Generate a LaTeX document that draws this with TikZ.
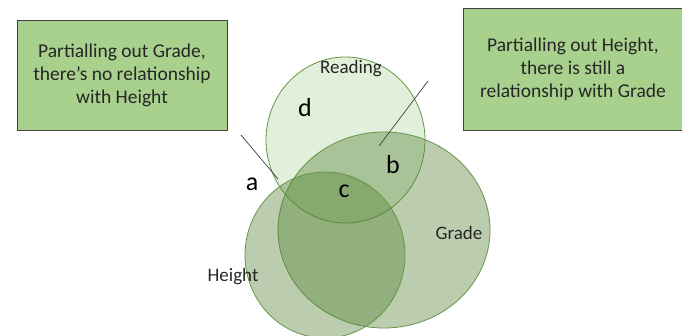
\documentclass[tikz,border=0pt]{standalone}
\usepackage{fontspec}
\setmainfont{Carlito}
\usetikzlibrary{shapes.geometric}
\definecolor{boxgreen}{RGB}{169,209,142}
\definecolor{vgreen}{RGB}{84,130,53}
\definecolor{rgreen}{RGB}{112,173,71}
\definecolor{vedge}{RGB}{100,150,70}
\definecolor{ink}{RGB}{38,38,38}
\definecolor{pointer}{RGB}{64,64,64}
\tikzset{
  notebox/.style={draw=pointer, line width=0.8pt, fill=boxgreen, align=center, text=ink,
    font=\fontsize{19.5}{23}\selectfont, inner sep=0pt},
  venn/.style={ellipse, draw=vedge, line width=0.8pt, fill=vgreen, inner sep=0pt},
  vlabel/.style={text=ink, font=\fontsize{19}{22}\selectfont, inner sep=0pt},
  region/.style={text=black, font=\fontsize{26}{30}\selectfont, inner sep=0pt},
  pointerline/.style={draw=pointer, line width=0.7pt}
}
\begin{document}
\begin{tikzpicture}[x=1pt,y=-1pt]
\useasboundingbox (0,0) rectangle (682,335);
% boxes
\node[notebox, minimum width=210pt, minimum height=110pt] (lbox) at (122,75.7)
  {Partialling out Grade,\\there’s no relationship\\with Height};
\node[notebox, minimum width=220pt, minimum height=121.5pt] (rbox) at (573,69.5)
  {Partialling out Height,\\there is still a\\relationship with Grade};
% circles
\node[venn, fill=rgreen, fill opacity=0.2, minimum width=159pt, minimum height=166pt] (reading) at (345.5,140) {};
\node[venn, fill opacity=0.4, minimum width=212pt, minimum height=196pt] (grade) at (384,230) {};
\node[venn, fill opacity=0.4, minimum width=160pt, minimum height=166pt] (height) at (325,255) {};
% labels
\node[vlabel] (lread) at (351,69) {Reading};
\node[vlabel] (lgrade) at (459,233) {Grade};
\node[vlabel] (lheight) at (233,277) {Height};
\node[region] (ra) at (252,184) {a};
\node[region] (rb) at (393,165) {b};
\node[region] (rc) at (344,191) {c};
\node[region] (rd) at (305,108) {d};
% pointers
\coordinate (pa1) at (241,135);
\coordinate (pa2) at (278,179);
\coordinate (pb1) at (428,81);
\coordinate (pb2) at (379,146);
\draw[pointerline] (pa1) -- (pa2);
\draw[pointerline] (pb1) -- (pb2);
\end{tikzpicture}
\end{document}
